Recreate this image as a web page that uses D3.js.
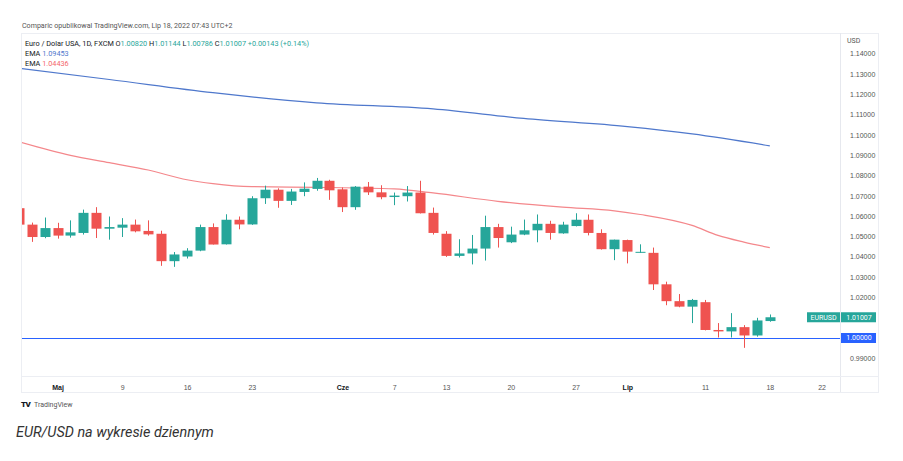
<!DOCTYPE html>
<html lang="pl">
<head>
  <meta charset="utf-8">
  <title>EUR/USD</title>
  <script src="https://d3js.org/d3.v7.min.js"></script>
  <style>
    body { margin: 0; background: #fff; font-family: Roboto, "Open Sans", sans-serif; }
    .axis path, .axis line { display: none; }
  </style>
</head>
<body>
<svg width="903" height="461"></svg>

<script>
  // candles, bar index 0 = May 2 2022 (first visible bar is index -3)
  var firstIdx = -3;
  var openVals  = [1.0638,1.0557,1.0496,1.0540,1.0503,1.0516,1.0615,1.0537,1.0542,1.0557,1.0526,1.0512,1.0377,1.0400,1.0429,1.0545,1.0460,1.0581,1.0558,1.0687,1.0729,1.0674,1.0718,1.0733,1.0773,1.0731,1.0643,1.0744,1.0716,1.0693,1.0697,1.0715,1.0615,1.0512,1.0403,1.0415,1.0439,1.0545,1.0470,1.0508,1.0529,1.0561,1.0514,1.0550,1.0581,1.0516,1.0436,1.0481,1.0420,1.0418,1.0263,1.0180,1.0153,1.0175,1.0038,1.0031,1.0052,1.0011,1.00820];
  var highVals  = [1.0644,1.0567,1.0592,1.0566,1.0578,1.0631,1.0643,1.0597,1.0589,1.0582,1.0578,1.0527,1.0422,1.0441,1.0557,1.0563,1.0608,1.0597,1.0697,1.0749,1.0736,1.0733,1.0765,1.0787,1.0778,1.0740,1.0747,1.0767,1.0751,1.0715,1.0747,1.0773,1.0641,1.0525,1.0485,1.0506,1.0601,1.0561,1.0547,1.0582,1.0607,1.0576,1.0571,1.0613,1.0607,1.0534,1.0483,1.0483,1.0460,1.0444,1.0276,1.0215,1.0191,1.0186,1.0072,1.0121,1.0062,1.0098,1.01144];
  var lowVals   = [1.0552,1.0472,1.0490,1.0488,1.0493,1.0508,1.0491,1.0483,1.0496,1.0519,1.0503,1.0354,1.0349,1.0390,1.0426,1.0459,1.0459,1.0534,1.0556,1.0659,1.0640,1.0654,1.0697,1.0724,1.0679,1.0619,1.0630,1.0703,1.0682,1.0653,1.0671,1.0612,1.0508,1.0398,1.0395,1.0361,1.0380,1.0444,1.0466,1.0505,1.0470,1.0483,1.0512,1.0548,1.0504,1.0434,1.0382,1.0366,1.0418,1.0235,1.0160,1.0150,1.0072,1.0036,1.0001,1.0001,0.9950,1.0005,1.00786];
  var closeVals = [1.0557,1.0496,1.0540,1.0503,1.0519,1.0615,1.0537,1.0545,1.0557,1.0524,1.0509,1.0377,1.0410,1.0429,1.0545,1.0459,1.0581,1.0558,1.0687,1.0729,1.0674,1.0720,1.0734,1.0773,1.0726,1.0643,1.0744,1.0716,1.0692,1.0700,1.0715,1.0613,1.0516,1.0403,1.0415,1.0439,1.0545,1.0491,1.0508,1.0529,1.0561,1.0516,1.0557,1.0581,1.0516,1.0436,1.0483,1.0424,1.0423,1.0263,1.0180,1.0153,1.0186,1.0038,1.0031,1.0052,1.0011,1.0085,1.01007];

  // EMA lines, read at a few bars
  var emaBlueIdx  = [-3, 4, 12, 20, 29, 36, 44, 49, 55];
  var emaBlueVals = [1.1327, 1.1272, 1.1207, 1.1157, 1.1127, 1.1080, 1.1040, 1.1004, 1.09453];
  var emaRedIdx   = [-3, 1, 4, 7, 10, 12, 15, 20, 26, 29, 34, 39, 43, 45, 49, 51, 53, 55];
  var emaRedVals  = [1.0965, 1.0898, 1.0862, 1.0826, 1.0778, 1.0759, 1.0744, 1.0741, 1.0733, 1.0713, 1.0672, 1.0643, 1.0625, 1.0607, 1.0553, 1.0504, 1.0471, 1.04436];

  // 1.00 and 1.01 labels sit under the price boxes, so they are left out
  var priceTicks = [0.99, 1.02, 1.03, 1.04, 1.05, 1.06, 1.07, 1.08, 1.09, 1.10, 1.11, 1.12, 1.13, 1.14];
  var timeTickIdx  = [0, 5, 10, 15, 22, 26, 30, 35, 40, 44, 50, 55, 59];
  var timeTickText = ["Maj", "9", "16", "23", "Cze", "7", "13", "20", "27", "Lip", "11", "18", "22"];
  var monthTicks = ["Maj", "Cze", "Lip"];

  var svg = d3.select("svg");
  var plotLeft = 21, plotRight = 840, plotTop = 33, axisTop = 376, frameBottom = 392, frameRight = 878;
  var up = "#26a69a", down = "#ef5350";

  var xScale = d3.scaleLinear().domain([-2.82, 60.42]).range([plotLeft, plotRight]);
  var yScale = d3.scaleLinear().domain([1.00, 1.14]).range([337.7, 53.5]);

  svg.append("text").attr("x", 22).attr("y", 28)
     .style("font-size", "7.1px").attr("fill", "#555")
     .text("Comparic opublikowal TradingView.com, Lip 18, 2022 07:43 UTC+2");

  // frame
  svg.append("rect").attr("x", plotLeft + 0.5).attr("y", plotTop + 0.5)
     .attr("width", frameRight - plotLeft).attr("height", frameBottom - plotTop)
     .attr("fill", "none").attr("stroke", "#eceef3");
  svg.append("line").attr("x1", plotRight + 0.5).attr("x2", plotRight + 0.5)
     .attr("y1", plotTop).attr("y2", frameBottom).attr("stroke", "#e6e8ee");
  svg.append("line").attr("x1", plotLeft).attr("x2", frameRight)
     .attr("y1", axisTop + 0.5).attr("y2", axisTop + 0.5).attr("stroke", "#eceef3");

  svg.append("clipPath").attr("id", "plotclip")
     .append("rect").attr("x", plotLeft + 1).attr("y", plotTop + 1)
     .attr("width", plotRight - plotLeft - 1).attr("height", axisTop - plotTop - 1);

  var plot = svg.append("g").attr("clip-path", "url(#plotclip)");

  var emaLine = d3.line()
      .x(function(d) { return xScale(d[0]); })
      .y(function(d) { return yScale(d[1]); })
      .curve(d3.curveMonotoneX);

  plot.append("path")
      .datum(d3.zip(emaBlueIdx, emaBlueVals))
      .attr("d", emaLine).attr("fill", "none")
      .attr("stroke", "#4f78cc").attr("stroke-width", 1.2);

  plot.append("path")
      .datum(d3.zip(emaRedIdx, emaRedVals))
      .attr("d", emaLine).attr("fill", "none")
      .attr("stroke", "#f4878b").attr("stroke-width", 1.2);

  // 1.00000 level
  var lvlY = Math.round(yScale(1.00)) + 0.5;
  plot.append("line")
      .attr("x1", plotLeft).attr("x2", plotRight)
      .attr("y1", lvlY).attr("y2", lvlY)
      .attr("stroke", "#2962ff").attr("stroke-width", 1);

  var candles = openVals.map(function(o, k) {
    return { i: firstIdx + k, o: o, h: highVals[k], l: lowVals[k], c: closeVals[k] };
  });

  var g = plot.selectAll(".candle").data(candles).enter().append("g").attr("class", "candle");

  g.append("line")
      .attr("x1", function(d) { return Math.round(xScale(d.i)) + 0.5; })
      .attr("x2", function(d) { return Math.round(xScale(d.i)) + 0.5; })
      .attr("y1", function(d) { return yScale(d.h); })
      .attr("y2", function(d) { return yScale(d.l); })
      .attr("stroke", function(d) { return d.c >= d.o ? up : down; })
      .attr("stroke-width", 1);

  g.append("rect")
      .attr("x", function(d) { return Math.round(xScale(d.i)) - 4.5; })
      .attr("width", 10)
      .attr("y", function(d) { return yScale(Math.max(d.o, d.c)); })
      .attr("height", function(d) { return Math.max(1, yScale(Math.min(d.o, d.c)) - yScale(Math.max(d.o, d.c))); })
      .attr("fill", function(d) { return d.c >= d.o ? up : down; });

  // price axis
  var yAxis = d3.axisRight(yScale).tickValues(priceTicks).tickFormat(d3.format(".5f")).tickSize(0);
  svg.append("g").attr("class", "axis")
     .attr("transform", "translate(" + (plotRight + 7) + ",0)")
     .call(yAxis)
     .selectAll("text").style("font-size", "7px").attr("fill", "#555").attr("dy", "0.35em");
  svg.append("text").attr("x", plotRight + 7).attr("y", 43)
     .style("font-size", "7px").attr("fill", "#555").text("USD");

  // last price and level labels
  var lastY = yScale(closeVals[closeVals.length - 1]);
  svg.append("rect").attr("x", 807).attr("y", lastY - 5).attr("width", 33).attr("height", 10).attr("fill", up);
  svg.append("text").attr("x", 823.5).attr("y", lastY).attr("dy", "0.35em").attr("text-anchor", "middle")
     .style("font-size", "7px").attr("fill", "#fff").text("EURUSD");
  svg.append("rect").attr("x", plotRight + 1).attr("y", lastY - 5).attr("width", 35).attr("height", 10).attr("fill", up);
  svg.append("text").attr("x", plotRight + 19).attr("y", lastY).attr("dy", "0.35em").attr("text-anchor", "middle")
     .style("font-size", "7px").attr("fill", "#fff").text(d3.format(".5f")(closeVals[closeVals.length - 1]));

  svg.append("rect").attr("x", plotRight + 1).attr("y", lvlY - 5.5).attr("width", 35).attr("height", 10).attr("fill", "#2962ff");
  svg.append("text").attr("x", plotRight + 19).attr("y", lvlY - 0.5).attr("dy", "0.35em").attr("text-anchor", "middle")
     .style("font-size", "7px").attr("fill", "#fff").text("1.00000");

  // time axis
  var xAxis = d3.axisBottom(xScale).tickValues(timeTickIdx)
      .tickFormat(function(d, k) { return timeTickText[k]; }).tickSize(0);
  svg.append("g").attr("class", "axis")
     .attr("transform", "translate(0," + (axisTop + 6) + ")")
     .call(xAxis)
     .selectAll("text")
     .style("font-size", "7px")
     .style("font-weight", function(d, k) { return monthTicks.indexOf(timeTickText[k]) >= 0 ? "bold" : "normal"; })
     .attr("fill", function(d, k) { return monthTicks.indexOf(timeTickText[k]) >= 0 ? "#131722" : "#555"; });

  // legend
  var legend = svg.append("text").attr("x", 25).attr("y", 46).style("font-size", "7.3px").attr("fill", "#131722");
  legend.append("tspan").text("Euro / Dolar USA, 1D, FXCM  O");
  legend.append("tspan").attr("fill", up).text("1.00820");
  legend.append("tspan").text("  H");
  legend.append("tspan").attr("fill", up).text("1.01144");
  legend.append("tspan").text("  L");
  legend.append("tspan").attr("fill", up).text("1.00786");
  legend.append("tspan").text("  C");
  legend.append("tspan").attr("fill", up).text("1.01007  +0.00143 (+0.14%)");

  var ema1 = svg.append("text").attr("x", 25).attr("y", 56).style("font-size", "7.3px").attr("fill", "#131722");
  ema1.append("tspan").text("EMA  ");
  ema1.append("tspan").attr("fill", "#4f78cc").text("1.09453");
  var ema2 = svg.append("text").attr("x", 25).attr("y", 66).style("font-size", "7.3px").attr("fill", "#131722");
  ema2.append("tspan").text("EMA  ");
  ema2.append("tspan").attr("fill", "#f4676b").text("1.04436");

  // footer
  svg.append("text").attr("x", 21).attr("y", 407).style("font-size", "8px").style("font-weight", "900")
     .attr("fill", "#131722").attr("letter-spacing", "-0.5").text("TV");
  svg.append("text").attr("x", 34).attr("y", 407).style("font-size", "7px").attr("fill", "#555").text("TradingView");

  svg.append("text").attr("x", 16).attr("y", 437)
     .style("font-size", "14.4px").style("font-style", "italic").attr("fill", "#333")
     .text("EUR/USD na wykresie dziennym");
</script>
</body>
</html>
